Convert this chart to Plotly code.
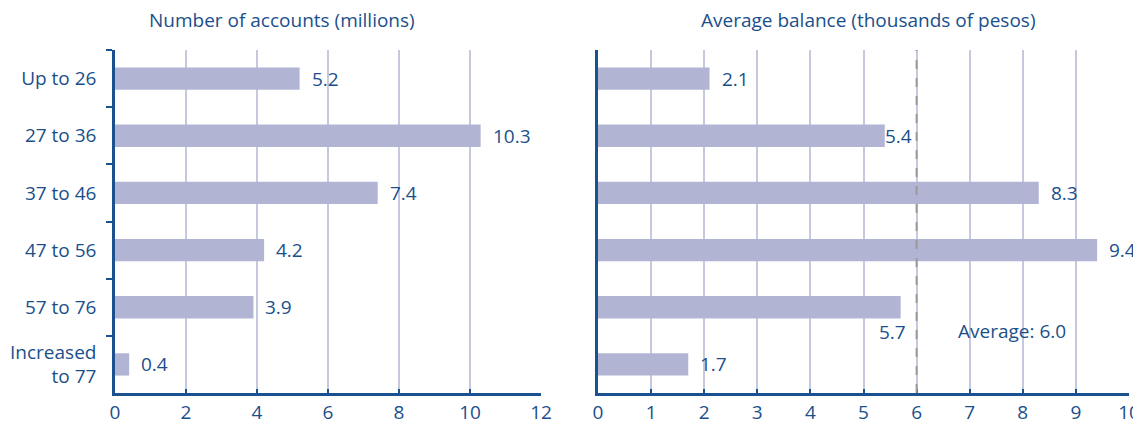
import plotly.graph_objects as go

categories = ["Up to 26", "27 to 36", "37 to 46", "47 to 56", "57 to 76", "Increased<br>to 77"]
accounts_millions = [5.2, 10.3, 7.4, 4.2, 3.9, 0.4]
avg_balance_thousands = [2.1, 5.4, 8.3, 9.4, 5.7, 1.7]
overall_average = 6.0
left_ticks = [0, 2, 4, 6, 8, 10, 12]
right_ticks = [0, 1, 2, 3, 4, 5, 6, 7, 8, 9, 10]

BAR = "#b1b4d3"
GRID = "#c6c9de"
AXIS = "#1c5190"
TXT = "#1a4f8b"
FONT = "Open Sans"
FS = 19

W, H = 1133, 421  # page has an 8px body margin
def px_x(x):
    return (x - 8) / W
def px_y(y):
    return 1 - (y - 8) / H

LDOM = [px_x(115), px_x(541)]
RDOM = [px_x(598), px_x(1129)]
YDOM = [px_y(393), px_y(50)]

fig = go.Figure()
fig.add_trace(go.Bar(x=accounts_millions, y=categories, orientation="h", width=0.39,
                     marker=dict(color=BAR, line=dict(width=0)), xaxis="x", yaxis="y",
                     hoverinfo="skip", showlegend=False))
fig.add_trace(go.Bar(x=avg_balance_thousands, y=categories, orientation="h", width=0.39,
                     marker=dict(color=BAR, line=dict(width=0)), xaxis="x2", yaxis="y2",
                     hoverinfo="skip", showlegend=False))

lab_font = dict(family=FONT, size=FS, color=TXT)
ann = []
for c, v in zip(categories, accounts_millions):
    ann.append(dict(x=v, y=c, xref="x", yref="y", text=f"{v:.1f}", showarrow=False,
                    xanchor="left", xshift=10, font=lab_font))
for c, v in zip(categories, avg_balance_thousands):
    gap = overall_average - v
    if 0 <= gap < 0.4:
        # label placed below the bar end to avoid the average line
        ann.append(dict(x=v, y=c, xref="x2", yref="y2", text=f"{v:.1f}", showarrow=False,
                        xanchor="right", yshift=-25, xshift=7, font=lab_font))
    elif 0 <= gap < 0.8:
        ann.append(dict(x=v, y=c, xref="x2", yref="y2", text=f"{v:.1f}", showarrow=False,
                        xanchor="left", xshift=-2, font=lab_font))
    else:
        ann.append(dict(x=v, y=c, xref="x2", yref="y2", text=f"{v:.1f}", showarrow=False,
                        xanchor="left", xshift=10, font=lab_font))

ann.append(dict(x=overall_average + 0.75, y=4.42, xref="x2", yref="y2",
                text=f"Average: {overall_average:.1f}", showarrow=False, xanchor="left",
                font=lab_font))
ann.append(dict(x=px_x(282), y=px_y(20), xref="paper", yref="paper", xanchor="center", yanchor="middle",
                text="Number of accounts (millions)", showarrow=False, font=lab_font))
ann.append(dict(x=px_x(868), y=px_y(20), xref="paper", yref="paper", xanchor="center", yanchor="middle",
                text="Average balance (thousands of pesos)", showarrow=False, font=lab_font))

shapes = [dict(type="line", xref="x2", yref="paper", x0=overall_average, x1=overall_average,
               y0=YDOM[0], y1=YDOM[1], line=dict(color="#9a9a9a", width=2, dash="dash"))]

xcommon = dict(showgrid=True, gridcolor=GRID, gridwidth=1.5, zeroline=False,
               showline=True, linecolor=AXIS, linewidth=2.5,
               ticks="inside", ticklen=4, tickcolor=AXIS, tickwidth=2,
               tickfont=dict(family=FONT, size=FS, color=TXT), fixedrange=True, automargin=False)

fig.update_layout(
    width=W, height=H,
    margin=dict(l=0, r=0, t=0, b=0),
    paper_bgcolor="white", plot_bgcolor="white",
    xaxis=dict(domain=LDOM, range=[0, 12], tickvals=left_ticks, anchor="y", **xcommon),
    xaxis2=dict(domain=RDOM, range=[0, 10], tickvals=right_ticks, anchor="y2", **xcommon),
    yaxis=dict(domain=YDOM, autorange="reversed", anchor="x",
               showline=True, linecolor=AXIS, linewidth=2.5, showgrid=False, zeroline=False,
               ticks="outside", tickson="boundaries", ticklen=6, tickcolor=AXIS, tickwidth=2,
               ticklabelstandoff=12,
               tickfont=dict(family=FONT, size=FS, color=TXT), automargin=False, fixedrange=True),
    yaxis2=dict(domain=YDOM, autorange="reversed", anchor="x2",
                showline=True, linecolor=AXIS, linewidth=2.5, showgrid=False, zeroline=False,
                showticklabels=False, ticks="", automargin=False, fixedrange=True),
    annotations=ann, shapes=shapes,
)

fig.write_html("out.html")
